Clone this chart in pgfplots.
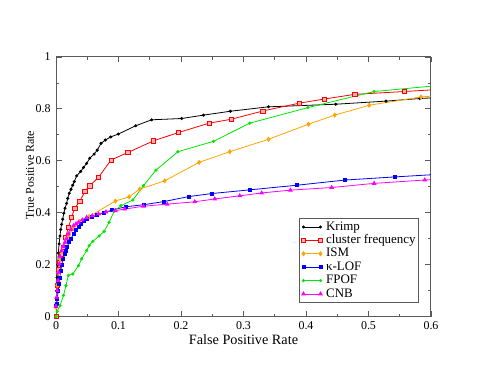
\documentclass[border=0pt]{standalone}
\usepackage{fontspec}
\setmainfont{Liberation Serif}
\usepackage{pgfplots}
\pgfplotsset{compat=1.18}
\definecolor{grRed}{RGB}{255,0,0}
\definecolor{grOrange}{RGB}{255,165,0}
\definecolor{grBlue}{RGB}{0,0,255}
\definecolor{grGreen}{RGB}{0,230,0}
\definecolor{grMagenta}{RGB}{255,0,255}
\definecolor{frameGray}{RGB}{90,90,90}

\begin{document}
\begin{tikzpicture}
\begin{axis}[
  scale only axis, width=375bp, height=259.5bp,
  xmin=0, xmax=0.6, ymin=0, ymax=1,
  xtick={0,0.1,0.2,0.3,0.4,0.5,0.6},
  ytick={0,0.2,0.4,0.6,0.8,1},
  minor x tick num=1, minor y tick num=1,
  major tick length=5.5bp, minor tick length=3bp,
  axis line style={frameGray, line width=1bp},
  every tick/.style={frameGray, line width=0.8bp},
  /pgf/number format/assume math mode=true,
  tick label style={font=\fontsize{12}{12}\selectfont},
  xticklabel style={yshift=-1.5bp},
  yticklabel style={xshift=-2bp},
  xlabel={False Positive Rate},
  ylabel={True Positive Rate},
  every axis x label/.style={at={(axis description cs:0.5,-0.1098)}, anchor=base,
    font=\fontsize{14.3}{14.3}\selectfont},
  every axis y label/.style={at={(axis description cs:-0.0587,0.545)}, rotate=90,
    anchor=base, font=\fontsize{12}{12}\selectfont},
  every axis plot/.append style={line width=0.8bp},
  legend cell align=left,
  legend style={at={(0.968,0.052)}, anchor=south east, draw=frameGray, line width=0.7bp,
    font=\fontsize{13}{13}\selectfont, inner xsep=2pt, inner ysep=2pt, row sep=0pt,
    column sep=2.5bp,
    nodes={inner sep=1pt, text height=8.8bp, text depth=2.6bp}},
  legend image code/.code={\draw[#1] plot coordinates {(0bp,0bp) (17bp,0bp)};},
]
% Krimp
\addplot[black, mark=*, mark size=1.1bp] coordinates {
  (0,0) (0.0005,0.05) (0.001,0.1) (0.0016,0.15) (0.0027,0.2) (0.0037,0.245)
  (0.005,0.28) (0.0064,0.31) (0.0075,0.335) (0.009,0.355) (0.0107,0.375)
  (0.0125,0.398) (0.0144,0.417) (0.017,0.436) (0.0187,0.455) (0.0213,0.475)
  (0.024,0.49) (0.0267,0.506) (0.0293,0.52) (0.033,0.542) (0.0395,0.559)
  (0.044,0.574) (0.049,0.59) (0.054,0.61) (0.061,0.626) (0.066,0.641)
  (0.072,0.667) (0.079,0.68) (0.0875,0.692) (0.0997,0.703) (0.1275,0.735)
  (0.153,0.758) (0.201,0.763) (0.236,0.776) (0.279,0.791) (0.34,0.808)
  (0.4475,0.818) (0.528,0.83) (0.582,0.84) (0.62,0.845)};
\addlegendentry{Krimp}
% cluster frequency
\addplot[grRed, mark=square*, mark size=2.1bp, mark options={fill=grRed!30, line width=0.6bp}] coordinates {
  (0,0) (0.002,0.12) (0.004,0.18) (0.006,0.21) (0.009,0.24) (0.0117,0.267)
  (0.0155,0.305) (0.0197,0.343) (0.025,0.382) (0.030,0.418) (0.038,0.443)
  (0.046,0.481) (0.054,0.504) (0.068,0.536) (0.088,0.603) (0.115,0.632)
  (0.156,0.677) (0.196,0.709) (0.245,0.745) (0.28,0.76) (0.331,0.792)
  (0.389,0.822) (0.429,0.838) (0.478,0.856) (0.557,0.867) (0.62,0.876)};
\addlegendentry{cluster frequency}
% ISM
\addplot[grOrange, mark=diamond*, mark size=2bp] coordinates {
  (0,0.035) (0.001,0.07) (0.002,0.12) (0.004,0.17) (0.007,0.22) (0.01,0.25)
  (0.015,0.29) (0.02,0.31) (0.028,0.34) (0.038,0.367) (0.053,0.385)
  (0.095,0.445) (0.117,0.461) (0.134,0.491) (0.174,0.523) (0.229,0.594)
  (0.278,0.635) (0.34,0.683) (0.404,0.741) (0.446,0.776) (0.501,0.814)
  (0.584,0.846) (0.62,0.853)};
\addlegendentry{ISM}
% kappa-LOF
\addplot[grBlue, mark=square*, mark size=1.5bp] coordinates {
  (0,0.04) (0.001,0.05) (0.002,0.068) (0.0035,0.1) (0.0048,0.126) (0.006,0.15)
  (0.0075,0.177) (0.0095,0.2) (0.0117,0.222) (0.014,0.24) (0.016,0.254)
  (0.018,0.27) (0.021,0.286) (0.024,0.3) (0.028,0.318) (0.032,0.332)
  (0.036,0.344) (0.040,0.356) (0.044,0.367) (0.05,0.375) (0.057,0.382)
  (0.066,0.39) (0.076,0.399) (0.089,0.41) (0.112,0.423) (0.141,0.431)
  (0.173,0.443) (0.212,0.462) (0.25,0.474) (0.31,0.488) (0.386,0.506)
  (0.463,0.526) (0.543,0.538) (0.62,0.549)};
\addlegendentry{κ-LOF}
% FPOF
\addplot[grGreen, mark=*, mark size=1.2bp] coordinates {
  (0,0) (0.002,0.02) (0.0064,0.042) (0.012,0.081) (0.016,0.119) (0.0197,0.158)
  (0.027,0.164) (0.036,0.196) (0.041,0.222) (0.049,0.254) (0.053,0.273)
  (0.059,0.29) (0.069,0.31) (0.077,0.328) (0.085,0.363) (0.093,0.405)
  (0.104,0.427) (0.123,0.449) (0.14,0.504) (0.16,0.564) (0.195,0.635)
  (0.252,0.675) (0.31,0.745) (0.403,0.805) (0.509,0.867) (0.62,0.892)};
\addlegendentry{FPOF}
% CNB
\addplot[grMagenta, mark=triangle*, mark size=2bp] coordinates {
  (0,0.04) (0.001,0.074) (0.002,0.1) (0.0032,0.138) (0.004,0.17) (0.0053,0.203)
  (0.007,0.23) (0.009,0.254) (0.0115,0.27) (0.0144,0.286) (0.017,0.3)
  (0.02,0.318) (0.024,0.335) (0.028,0.35) (0.032,0.357) (0.036,0.363)
  (0.042,0.372) (0.049,0.382) (0.058,0.388) (0.068,0.395) (0.08,0.403)
  (0.095,0.408) (0.11,0.414) (0.14,0.425) (0.178,0.433) (0.222,0.442)
  (0.254,0.453) (0.294,0.465) (0.329,0.476) (0.375,0.487) (0.441,0.497)
  (0.509,0.513) (0.59,0.526) (0.62,0.53)};
\addlegendentry{CNB}
\end{axis}
\pgfresetboundingbox
\path (-56bp,-57.5bp) rectangle (429bp,316.5bp);
\end{tikzpicture}
\end{document}
